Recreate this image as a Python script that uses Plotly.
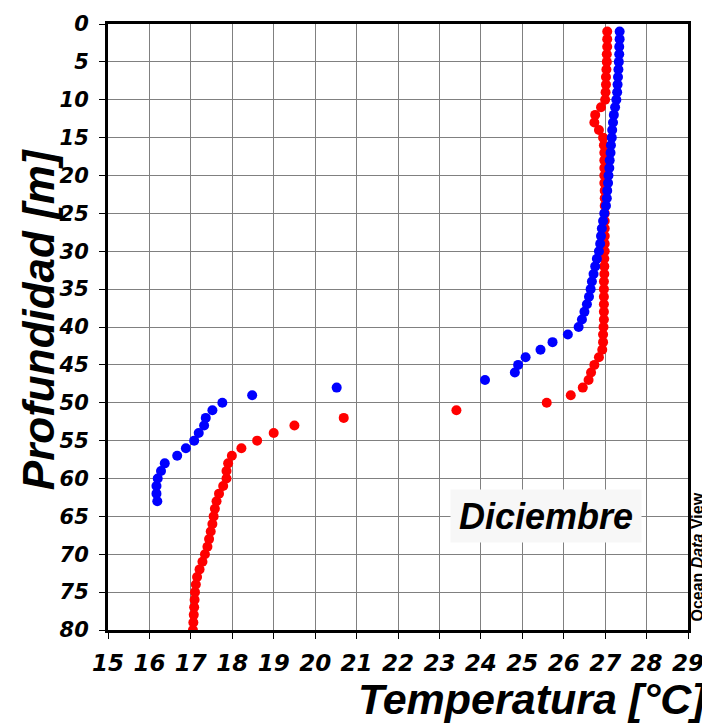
import plotly.graph_objects as go

# Blue profile (depth m, temperature °C)
blue_depth = list(range(1, 64))
blue_temp = [27.35, 27.35, 27.34, 27.34, 27.33, 27.32, 27.31, 27.30, 27.29, 27.27,
             27.24, 27.21, 27.19, 27.17, 27.16, 27.14, 27.13, 27.11, 27.10, 27.08,
             27.07, 27.05, 27.04, 27.02, 26.98, 26.95, 26.92, 26.90, 26.88, 26.85,
             26.80, 26.76, 26.72, 26.68, 26.65, 26.61, 26.56, 26.50, 26.44, 26.36,
             26.10, 25.73, 25.44, 25.08, 24.90, 24.82, 24.10, 20.52, 18.48, 17.76,
             17.52, 17.36, 17.32, 17.19, 17.08, 16.88, 16.67, 16.37, 16.28, 16.20,
             16.17, 16.17, 16.19]

# Red profile
red_depth = list(range(1, 81))
red_temp = [27.05, 27.05, 27.05, 27.04, 27.04, 27.03, 27.02, 27.02, 27.01, 27.00,
            26.90, 26.76, 26.74, 26.85, 26.95, 26.97, 26.98, 26.98, 26.98, 26.98,
            26.98, 26.99, 26.99, 26.99, 26.99, 26.99, 26.99, 26.99, 26.99, 26.99,
            26.98, 26.98, 26.98, 26.97, 26.97, 26.97, 26.97, 26.97, 26.97, 26.96,
            26.95, 26.95, 26.93, 26.85, 26.74, 26.66, 26.60, 26.46, 26.17, 25.59,
            23.41, 20.69, 19.50, 19.00, 18.60, 18.22, 17.99, 17.90, 17.86, 17.86,
            17.78, 17.68, 17.62, 17.58, 17.55, 17.52, 17.48, 17.44, 17.40, 17.34,
            17.28, 17.21, 17.15, 17.12, 17.10, 17.09, 17.08, 17.07, 17.06, 17.05]

x_ticks = list(range(15, 30))
y_ticks = list(range(0, 81, 5))

TITLE_FONT = "Liberation Sans"
TICK_FONT = "DejaVu Sans"

fig = go.Figure()
fig.add_trace(go.Scatter(x=red_temp, y=red_depth, mode="markers",
                         marker=dict(color="#ff0000", size=10, line=dict(width=0)),
                         showlegend=False))
fig.add_trace(go.Scatter(x=blue_temp, y=blue_depth, mode="markers",
                         marker=dict(color="#0000ff", size=10, line=dict(width=0)),
                         showlegend=False))

fig.update_layout(
    width=710, height=726,
    margin=dict(l=100, r=30, t=16, b=104),
    paper_bgcolor="white", plot_bgcolor="white",
    xaxis=dict(range=[15, 29], tickvals=x_ticks, ticks="outside", ticklen=6,
               tickcolor="black", tickwidth=1, showgrid=True, gridcolor="#808080",
               gridwidth=1, showline=True, linecolor="black", linewidth=3,
               mirror=True, ticklabelstandoff=4, zeroline=False, automargin=False,
               tickfont=dict(family=TICK_FONT, size=23, color="black",
                             weight="bold", style="italic")),
    yaxis=dict(range=[80, 0], tickvals=y_ticks, ticks="outside", ticklen=6,
               tickcolor="black", tickwidth=1, showgrid=True, gridcolor="#808080",
               gridwidth=1, showline=True, linecolor="black", linewidth=3,
               mirror=True, ticklabelstandoff=6, zeroline=False, automargin=False,
               tickfont=dict(family=TICK_FONT, size=21, color="black",
                             weight="bold", style="italic")),
    annotations=[
        dict(text="Profundidad [m]", xref="paper", yref="paper", x=-0.12, y=0.512,
             xanchor="center", yanchor="middle", textangle=-90, showarrow=False,
             font=dict(family=TITLE_FONT, size=44, color="black", weight="bold", style="italic")),
        dict(text="Temperatura [°C]", xref="paper", yref="paper", x=1.036, y=-0.114,
             xanchor="right", yanchor="middle", showarrow=False,
             font=dict(family=TITLE_FONT, size=43, color="black", weight="bold", style="italic")),
        dict(text="Diciembre", xref="x", yref="y", x=25.57, y=65.0,
             xanchor="center", yanchor="middle", showarrow=False,
             bgcolor="#f7f7f7", borderpad=0, width=190, height=52,
             font=dict(family=TITLE_FONT, size=36, color="black", weight="bold", style="italic")),
        dict(text="Ocean <i>Data</i> View", xref="paper", yref="paper", x=1.016, y=0.12,
             xanchor="center", yanchor="middle", textangle=-90, showarrow=False,
             font=dict(family=TITLE_FONT, size=16, color="black", weight="bold")),
    ],
)

fig.write_html("out.html")
